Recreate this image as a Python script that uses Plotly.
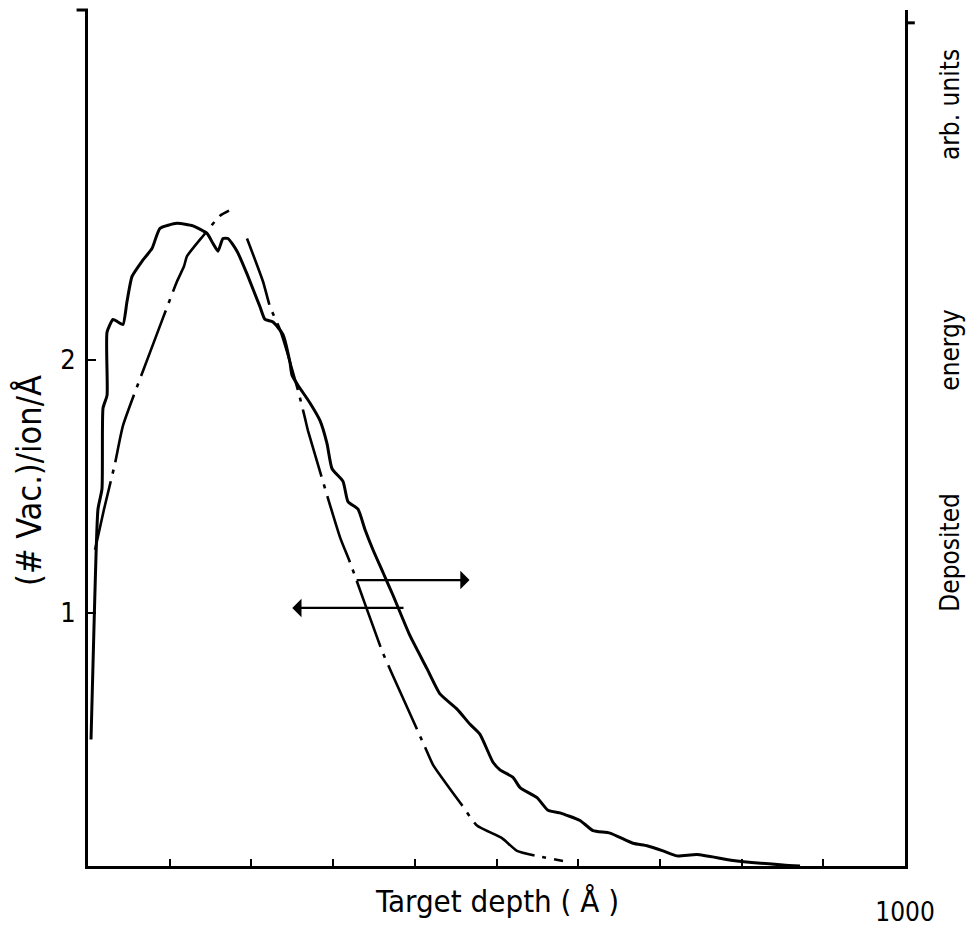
import plotly.graph_objects as go

# ---- data ----
# solid curve: vacancies per ion per Angstrom vs target depth (Angstrom)
vac_depth = [3.7, 7.3, 12.2, 17.1, 18.4, 23.3, 23.3, 30.6, 36.7, 42.8, 47.7, 53.9, 66.1, 78.3,
             88.1, 108.9, 128.5, 145.7, 153.0, 159.1, 165.2, 171.4, 182.4, 194.6, 210.5, 216.6,
             226.4, 238.7, 247.2, 249.7, 257.0, 271.7, 284.0, 292.5, 298.7, 312.1, 318.2, 330.5,
             339.0, 348.8, 361.1, 373.3, 394.1, 414.9, 430.8, 451.7, 467.6, 479.8, 495.7, 504.3,
             520.2, 528.8, 549.6, 563.0, 577.7, 586.3, 602.2, 618.1, 638.9, 667.1, 684.2, 703.8,
             720.9, 745.4, 789.5, 850.7, 871.5]
vac_value = [0.50, 0.94, 1.41, 1.49, 1.81, 1.86, 2.11, 2.16, 2.15, 2.14, 2.23, 2.33, 2.39, 2.44,
             2.52, 2.54, 2.53, 2.50, 2.46, 2.43, 2.48, 2.48, 2.43, 2.34, 2.21, 2.16,
             2.15, 2.10, 1.99, 1.94, 1.90, 1.83, 1.76, 1.67, 1.57, 1.52, 1.44, 1.41,
             1.33, 1.25, 1.16, 1.07, 0.91, 0.78, 0.68, 0.62, 0.56, 0.52, 0.41, 0.38,
             0.35, 0.31, 0.27, 0.22, 0.21, 0.20, 0.18, 0.14, 0.13, 0.09, 0.08, 0.06,
             0.04, 0.045, 0.022, 0.004, 0.0]

# dash-dot curve: deposited energy (arb. units) vs target depth (Angstrom); gap near the peak
dep_depth = [8.6, 19.6, 33.0, 42.8, 75.9, 108.9, 117.5, 121.2, 140.8, 161.6, 172.6, None,
             194.6, 214.2, 222.8, 235.0, 257.0, 265.6, 269.3, 308.4, 320.7, 359.9, 372.1,
             412.5, 422.3, 457.8, 476.1, 506.7, 525.1, 553.2, 581.4]
dep_value = [1.25, 1.41, 1.59, 1.74, 2.03, 2.31, 2.37, 2.41, 2.49, 2.57, 2.59, None,
             2.48, 2.31, 2.21, 2.12, 1.88, 1.77, 1.72, 1.30, 1.20, 0.85, 0.76,
             0.47, 0.40, 0.24, 0.16, 0.11, 0.06, 0.037, 0.02]

x_tick_vals = [0, 100, 200, 300, 400, 500, 600, 700, 800, 900, 1000]
x_tick_text = ["", "", "", "", "", "", "", "", "", "", "1000"]
y_tick_vals = [1, 2]
y_tick_text = ["1", "2"]

FONT = "Liberation Sans Narrow, DejaVu Sans Condensed, Roboto Condensed, Arial Narrow, sans-serif"

fig = go.Figure()
fig.add_trace(go.Scatter(x=vac_depth, y=vac_value, mode="lines",
                         line=dict(color="black", width=3, shape="spline", smoothing=0.5),
                         name="Vacancies", showlegend=False, hoverinfo="skip"))
fig.add_trace(go.Scatter(x=dep_depth, y=dep_value, mode="lines", yaxis="y2",
                         line=dict(color="black", width=2.6, dash="70px,8px,4px,8px",
                                   shape="spline", smoothing=0.5),
                         name="Deposited energy", connectgaps=False,
                         showlegend=False, hoverinfo="skip"))

YMAX = 3.383
fig.update_layout(
    width=969, height=935,
    margin=dict(l=88, r=64, t=10, b=69),
    paper_bgcolor="white", plot_bgcolor="white",
    font=dict(family=FONT, color="black", size=24),
    showlegend=False,
    xaxis=dict(range=[0, 1000], showline=True, linecolor="black", linewidth=3,
               ticks="inside", ticklen=7, tickwidth=2, tickcolor="black",
               tickvals=x_tick_vals, ticktext=x_tick_text, ticklabelstandoff=21,
               tickfont=dict(size=26), showgrid=False, zeroline=False, automargin=False),
    yaxis=dict(range=[0, YMAX], showline=True, linecolor="black", linewidth=3,
               ticks="inside", ticklen=8, tickwidth=2, tickcolor="black",
               tickvals=y_tick_vals, ticktext=y_tick_text, ticklabelstandoff=4,
               tickfont=dict(size=27), showgrid=False, zeroline=False, automargin=False),
    yaxis2=dict(range=[0, YMAX], overlaying="y", side="right", showline=True,
                linecolor="black", linewidth=3, showticklabels=False, ticks="",
                showgrid=False, zeroline=False, automargin=False),
)

# top end marks on the two vertical axes
fig.add_shape(type="line", xref="paper", yref="paper", x0=-0.014, x1=0.0, y0=1, y1=1,
              line=dict(color="black", width=3))
fig.add_shape(type="line", xref="paper", yref="paper", x0=1.0, x1=1.012, y0=0.985, y1=0.985,
              line=dict(color="black", width=3))

# axis titles
fig.add_annotation(text="(# Vac.)/ion/Å", xref="paper", yref="paper",
                   x=-0.072, y=0.45, textangle=-90, showarrow=False,
                   font=dict(size=34, family=FONT), xanchor="center", yanchor="middle")
fig.add_annotation(text="Target depth ( Å )", xref="paper", yref="paper",
                   x=0.50, y=-0.018, showarrow=False,
                   font=dict(size=31, family=FONT), xanchor="center", yanchor="top")
for word, ypos in [("Deposited", 0.367), ("energy", 0.603), ("arb. units", 0.89)]:
    fig.add_annotation(text=word, xref="paper", yref="paper", x=1.055, y=ypos,
                       textangle=-90, showarrow=False,
                       font=dict(size=26, family=FONT), xanchor="center", yanchor="middle")

# arrows pointing to the axis each curve belongs to
fig.add_annotation(x=467, y=1.13, ax=327, ay=1.13, xref="x", yref="y", axref="x", ayref="y",
                   text="", showarrow=True, arrowhead=1, arrowsize=1.4, arrowwidth=2.2,
                   arrowcolor="black")
fig.add_annotation(x=250, y=1.02, ax=388, ay=1.02, xref="x", yref="y", axref="x", ayref="y",
                   text="", showarrow=True, arrowhead=1, arrowsize=1.4, arrowwidth=2.2,
                   arrowcolor="black")

fig.write_html("out.html", config={"displayModeBar": False},
               post_script="document.body.style.margin='0';")
